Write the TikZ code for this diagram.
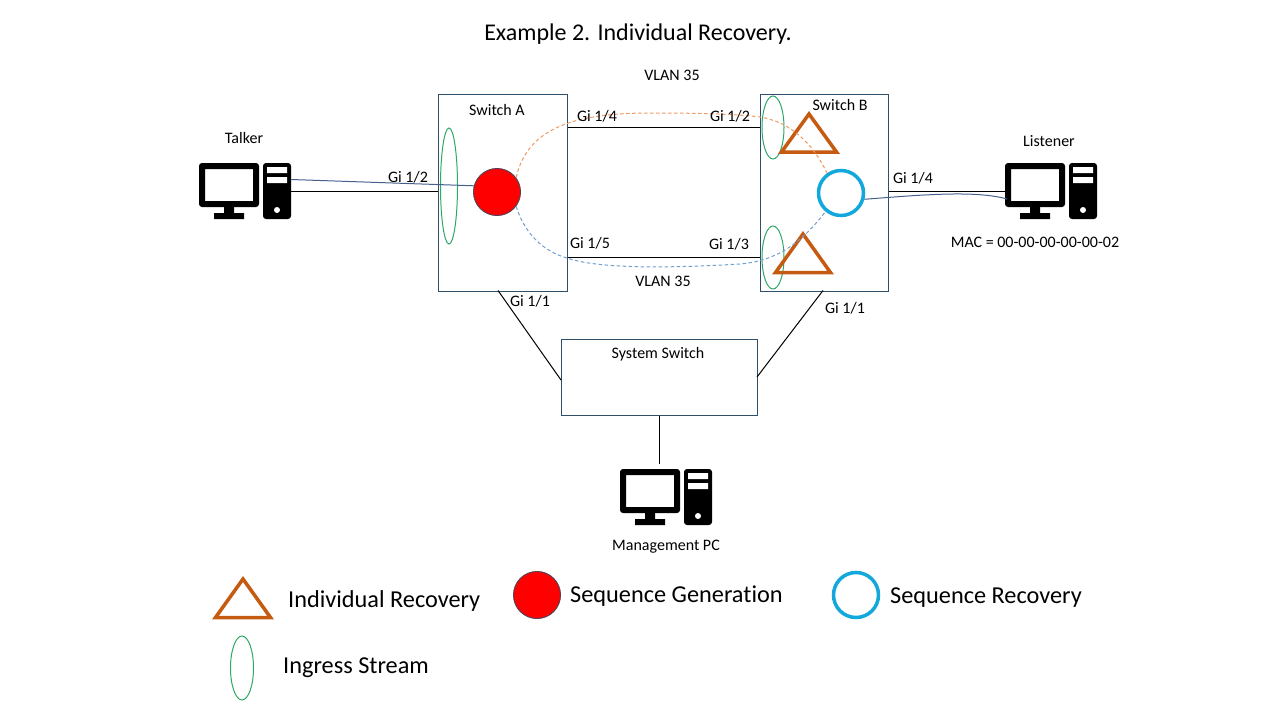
\documentclass[tikz,border=0pt]{standalone}
\usepackage{fontspec}
\usetikzlibrary{shapes.geometric}
\setmainfont{Carlito}[Ligatures=NoCommon]
\definecolor{boxedge}{HTML}{2F5068}
\definecolor{ingress}{HTML}{2EA866}
\definecolor{recover}{HTML}{C55A11}
\definecolor{seqrec}{HTML}{12A8DC}
\definecolor{pathA}{HTML}{ED9A65}
\definecolor{pathB}{HTML}{6F9FD0}
\definecolor{hostline}{HTML}{44608C}
\tikzset{
	lbl/.style={inner sep=0pt,font=\fontsize{16}{18}\selectfont},
	legendlbl/.style={inner sep=0pt,anchor=west,yshift=-2pt,font=\fontsize{24.3}{27}\selectfont},
	devbox/.style={draw=boxedge,line width=1pt,inner sep=0pt,anchor=north west},
	pcbox/.style={inner sep=0pt,anchor=north west,minimum width=92,minimum height=56},
	ingressring/.style={draw=ingress,line width=1pt,ellipse,inner sep=0pt},
	seqgen/.style={circle,fill=red,draw=boxedge!80!red,line width=1pt,minimum size=47,inner sep=0pt},
	seqring/.style={circle,fill=white,draw=seqrec,line width=3.5pt,minimum size=45,inner sep=0pt},
	recovertri/.style={draw=recover,line width=3.5pt,line join=miter},
	link/.style={draw=black,line width=1pt},
	hostpath/.style={draw=hostline,line width=1pt},
	dashA/.style={draw=pathA,line width=1pt,dash pattern=on 3.5pt off 2.5pt},
	dashB/.style={draw=pathB,line width=1pt,dash pattern=on 3.5pt off 2.5pt},
	pcicon/.pic={
		\fill[black,rounded corners=3,even odd rule] (0,0) rectangle (60,44) (6,6) [sharp corners] rectangle (54,38);
		\fill[black] (25,44) rectangle (35,51) (15,50) rectangle (45,56);
		\fill[black,rounded corners=3] (64,0) rectangle (92,56);
		\fill[white] (68,4) rectangle (88,10) (68,14) rectangle (88,20);
		\fill[white] (78,47) circle (3);
	}
}
\begin{document}
\begin{tikzpicture}[x=1pt,y=-1pt]
\useasboundingbox (0,0) rectangle (1280,720);
\node[devbox,minimum width=129,minimum height=197] (swA) at (438,93.5) {};
\node[devbox,minimum width=128,minimum height=197] (swB) at (760,93.5) {};
\node[devbox,minimum width=196,minimum height=76] (sys) at (561,339) {};
\node[pcbox] (talker) at (199,163) {};
\node[pcbox] (listener) at (1005,163) {};
\node[pcbox] (mgmt) at (620,469) {};
\pic at (talker.north west) {pcicon};
\pic at (listener.north west) {pcicon};
\pic at (mgmt.north west) {pcicon};
\node[ingressring,minimum width=17,minimum height=116] (ingA) at (449,186) {};
\node[ingressring,minimum width=22,minimum height=63] (ingB1) at (773,127.5) {};
\node[ingressring,minimum width=22,minimum height=63] (ingB2) at (773,257.5) {};
\draw[recovertri] (809,114) -- (836.5,152) -- (781.5,152) -- cycle;
\draw[recovertri] (803,234) -- (830.5,272.5) -- (775.5,272.5) -- cycle;
\coordinate (talkerport) at (291,179.5);
\coordinate (listenerport) at (1007,199);
\coordinate (swAdown) at (498,290.5);
\coordinate (swBdown) at (823,290.5);
\coordinate (sysleft) at (561,380);
\coordinate (sysright) at (757,377);
\coordinate (topmid) at (650,113);
\coordinate (topend) at (760,117);
\coordinate (lowA) at (567,258);
\coordinate (lowB) at (740,264);
\node[seqgen] (gen) at (497,192) {};
\node[seqring] (rec) at (841,193) {};
\path[link]
(talker.east) edge (swA.west|-talker.east)
(swA.east|-ingB1) edge (swB.west|-ingB1)
(swA.east|-ingB2) edge (swB.west|-ingB2)
(swB.east|-listener.west) edge (listener.west)
(swAdown) edge (sysleft)
(swBdown) edge (sysright)
(sys.south) edge [shorten >=5] (sys.south|-mgmt.north)
;
\draw[hostpath] (talkerport) -- (gen.165);
\draw[hostpath] (rec.-15) .. controls (920,195) and (975,190) .. (listenerport);
\draw[dashA] (gen.37) .. controls (527,130) and (570,113) .. (topmid)
	.. controls (700,113) and (735,114) .. (topend)
	.. controls (790,122) and (812,142) .. (rec.125);
\draw[dashB] (gen.-37) .. controls (525,235) and (545,252) .. (lowA)
	.. controls (590,266) and (640,270) .. (lowB)
	.. controls (775,261) and (800,245) .. (rec.-130);
\node[inner sep=0pt,yshift=-1.5pt,font=\fontsize{24}{27}\selectfont] (title) at (638,33) {Example 2. Individual Recovery.};
\node[lbl] (vlantop) at (672,75) {VLAN 35};
\node[lbl] (vlanlow) at (663,281) {VLAN 35};
\node[lbl] (swAname) at (497,110) {Switch A};
\node[lbl] (swBname) at (840,105) {Switch B};
\node[lbl] (sysname) at (658,354) {System Switch};
\node[lbl] (talkername) at (244,138) {Talker};
\node[lbl] (listenername) at (1049,141) {Listener};
\node[lbl] (macname) at (1035,242) {MAC = 00-00-00-00-00-02};
\node[lbl] (mgmtname) at (666,547) {Management PC};
\node[lbl] (gitalker) at (408,177) {Gi 1/2};
\node[lbl] (giAtop) at (597,116) {Gi 1/4};
\node[lbl] (giBtop) at (730,116) {Gi 1/2};
\node[lbl] (giAlow) at (590,243) {Gi 1/5};
\node[lbl] (giBlow) at (729,244) {Gi 1/3};
\node[lbl] (giAdown) at (530,301) {Gi 1/1};
\node[lbl] (giBdown) at (845,308) {Gi 1/1};
\node[lbl] (gilistener) at (913,178) {Gi 1/4};
\draw[recovertri] (243,579) -- (270.5,617.5) -- (215.5,617.5) -- cycle;
\node[seqgen] (keygen) at (537,595) {};
\node[seqring] (keyrec) at (856,595) {};
\node[ingressring,minimum width=23,minimum height=64] (keying) at (242,668) {};
\node[legendlbl] (keyrectext) at (288,599) {Individual Recovery};
\node[legendlbl] (keygentext) at (570,594) {Sequence Generation};
\node[legendlbl] (keyseqtext) at (890,596) {Sequence Recovery};
\node[legendlbl] (keyingtext) at (283,666) {Ingress Stream};
\end{tikzpicture}
\end{document}
